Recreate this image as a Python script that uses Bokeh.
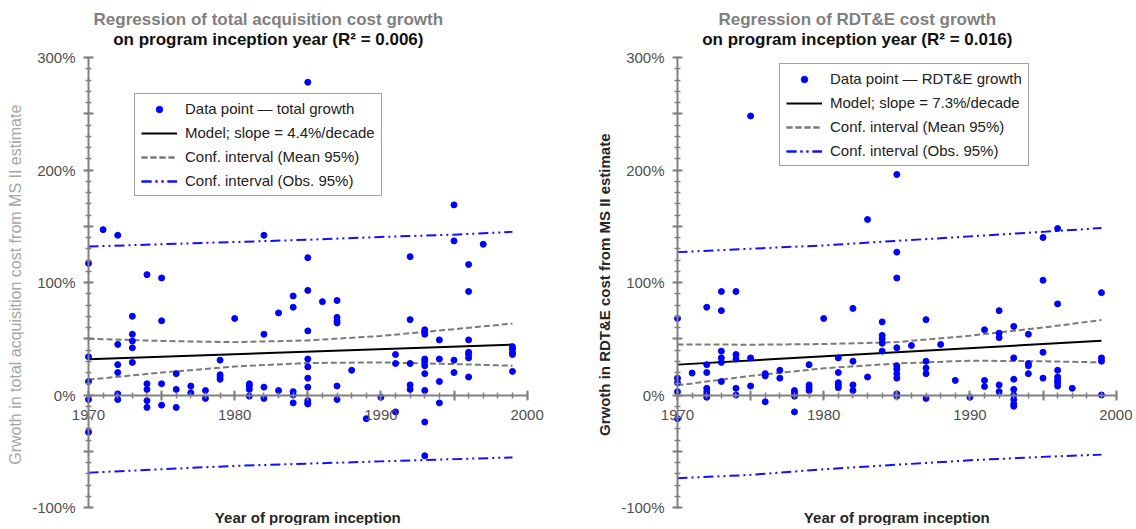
import math
from bokeh.plotting import figure
from bokeh.models import FixedTicker, Label
from bokeh.layouts import row
from bokeh.embed import file_html
from bokeh.resources import INLINE

FONT = "Liberation Sans"

# ---------------- tick labels ----------------
y_major = [-100, -50, 0, 50, 100, 150, 200, 250, 300]
y_tick_values = [-100, 0, 100, 200, 300]
y_tick_labels = ["-100%", "0%", "100%", "200%", "300%"]
x_major = [1970, 1975, 1980, 1985, 1990, 1995, 2000]
x_tick_values = [1970, 1980, 1990, 2000]
x_tick_labels = ["1970", "1980", "1990", "2000"]

# ---------------- left chart: total acquisition cost growth (%) ----------------
total_year = [1970, 1970, 1970, 1970, 1970,
              1971,
              1972, 1972, 1972, 1972, 1972, 1972,
              1973, 1973, 1973, 1973, 1973,
              1974, 1974, 1974, 1974, 1974,
              1975, 1975, 1975, 1975,
              1976, 1976, 1976,
              1977, 1977,
              1978, 1978,
              1979, 1979, 1979, 1979,
              1980,
              1981, 1981, 1981, 1981,
              1982, 1982, 1982, 1982,
              1983, 1983,
              1984, 1984, 1984, 1984, 1984,
              1985, 1985, 1985, 1985, 1985, 1985, 1985, 1985, 1985, 1985, 1985,
              1986,
              1987, 1987, 1987, 1987, 1987, 1987,
              1988,
              1989,
              1990,
              1991, 1991, 1991,
              1992, 1992, 1992, 1992, 1992,
              1993, 1993, 1993, 1993, 1993, 1993, 1993, 1993, 1993, 1993,
              1994, 1994, 1994, 1994,
              1995, 1995, 1995, 1995,
              1996, 1996, 1996, 1996, 1996, 1996, 1996,
              1997,
              1999, 1999, 1999, 1999, 1999]
total_growth = [117, 34, 12, -4, -33,
                147,
                142, 45, 27, 20, 1, -4,
                70, 54, 48, 42, 29,
                107, 10, 5, -5, -11,
                104, 66, 10, -9,
                19, 5, -11,
                8, 2,
                4, -3,
                31, 18, 16, 14,
                68,
                10, 8, 5, -1,
                142, 54, 7, -3,
                73, 4,
                88, 78, 3, 0, -7,
                278, 122, 93, 57, 32, 25, 15, 7, -5, -7, -8,
                83,
                84, 69, 66, 64, 8, -4,
                22,
                -21,
                -2,
                36, 28, -15,
                123, 67, 28, 9, 5,
                58, 56, 54, 32, 30, 26, 19, 4, -24, -54,
                49, 32, 12, -7,
                169, 137, 31, 20,
                116, 92, 49, 38, 36, 33, 16,
                134,
                43, 41, 38, 36, 21]

model_year = [1970, 1999]
total_model = [31.8, 44.8]
band_year = [1970, 1975, 1980, 1985, 1990, 1995, 1999]
total_mean_hi = [50, 48, 47, 48.5, 52.5, 58.5, 63.5]
total_mean_lo = [13.6, 20, 25.4, 28.4, 29, 27.5, 26]
total_obs_hi = [132, 134, 136, 138, 140.5, 142.5, 145]
total_obs_lo = [-69, -66, -63, -61, -59, -57, -55.5]

# ---------------- right chart: RDT&E cost growth (%) ----------------
rdte_year = [1970, 1970, 1970, 1970, 1970,
             1971,
             1972, 1972, 1972, 1972, 1972, 1972, 1972,
             1973, 1973, 1973, 1973, 1973, 1973,
             1974, 1974, 1974, 1974, 1974,
             1975, 1975, 1975,
             1976, 1976, 1976,
             1977, 1977,
             1978, 1978, 1978, 1978,
             1979, 1979, 1979, 1979,
             1980,
             1981, 1981, 1981, 1981, 1981,
             1982, 1982, 1982, 1982,
             1983, 1983,
             1984, 1984, 1984, 1984, 1984,
             1985, 1985, 1985, 1985, 1985, 1985, 1985, 1985, 1985, 1985,
             1986,
             1987, 1987, 1987, 1987, 1987,
             1988,
             1989,
             1990,
             1991, 1991, 1991,
             1992, 1992, 1992, 1992, 1992,
             1993, 1993, 1993, 1993, 1993, 1993, 1993, 1993,
             1994, 1994, 1994, 1994,
             1995, 1995, 1995, 1995,
             1996, 1996, 1996, 1996, 1996, 1996, 1996,
             1997,
             1999, 1999, 1999, 1999]
rdte_growth = [68, 15, 11, 3, -21,
               19.5,
               78, 27, 20, 6, 3, 0.5, -2,
               92, 75, 39, 33, 29, 12,
               92, 36, 32, 6, 0,
               248, 33, 8,
               19, 17, -6,
               22, 15,
               4, 2, -1, -15,
               27, 9, 6.5, 4,
               68,
               33, 20, 11, 9, 6.5,
               77, 30, 9, 4,
               156, 16,
               65, 53, 50, 46, 39,
               196, 127, 104, 42, 26, 23, 19, 15, 1, -1,
               44,
               67, 30, 24, 19, -3,
               45,
               13,
               -2,
               58, 13, 7.5,
               75, 55, 51, 9, 3,
               61, 33, 14, 5, 0, -4, -8, -10,
               54, 28, 26, 19,
               140, 102, 38, 15,
               148, 81, 22, 16, 13, 11, 8,
               6,
               91, 33, 30, 0]

rdte_model = [27.0, 48.2]
rdte_mean_hi = [45, 44.7, 45.3, 47, 52.7, 60, 66.6]
rdte_mean_lo = [8.6, 17, 23.7, 28, 30.5, 30, 29]
rdte_obs_hi = [127, 130, 133, 137, 141, 145, 148.4]
rdte_obs_lo = [-74, -71, -66, -62, -58, -55, -53]

# ---------------- layout constants (pixels) ----------------
PX_PER_YEAR = 14.62
PX_PER_PCT = 1.125
FIG_H = 525
AXIS_TOP_PX = 57        # page y of the 300% tick
AXIS_BOTTOM_PX = 507    # page y of the -100% tick


def make_chart(years, vals, model, mean_hi, mean_lo, obs_hi, obs_lo,
               title1, title2, ylabel, ylabel_color, ylabel_style, ylabel_size,
               point_label, model_label, legend_loc, fig_w, axis_left_px):
    x0 = 1970 - axis_left_px / PX_PER_YEAR
    x1 = 1970 + (fig_w - axis_left_px) / PX_PER_YEAR
    y1 = 300 + AXIS_TOP_PX / PX_PER_PCT
    y0 = -100 - (FIG_H - AXIS_BOTTOM_PX) / PX_PER_PCT
    p = figure(frame_width=fig_w, frame_height=FIG_H,
               x_range=(x0, x1), y_range=(y0, y1),
               output_backend="svg", toolbar_location=None, title=None,
               min_border=0,
               background_fill_color="white", border_fill_color="white")
    p.outline_line_color = None
    p.xgrid.visible = False
    p.ygrid.visible = False

    # confidence bands
    p.line(band_year, obs_hi, line_color="#1010ff", line_width=2,
           line_dash="10 4 2 4 2 4", legend_label="Conf. interval (Obs. 95%)")
    p.line(band_year, obs_lo, line_color="#1010ff", line_width=2,
           line_dash="10 4 2 4 2 4", legend_label="Conf. interval (Obs. 95%)")
    p.line(band_year, mean_hi, line_color="#7a7a7a", line_width=2,
           line_dash="6 3", legend_label="Conf. interval (Mean 95%)")
    p.line(band_year, mean_lo, line_color="#7a7a7a", line_width=2,
           line_dash="6 3", legend_label="Conf. interval (Mean 95%)")
    p.line(model_year, model, line_color="black", line_width=2,
           legend_label=model_label)
    p.scatter(years, vals, marker="circle", size=6, fill_color="#0000ff",
              line_color="#0000ff", legend_label=point_label)

    # legend order / style
    items = p.legend[0].items
    order = [point_label, model_label, "Conf. interval (Mean 95%)",
             "Conf. interval (Obs. 95%)"]
    p.legend[0].items = sorted(items, key=lambda it: order.index(it.label.value))
    lg = p.legend[0]
    lg.location = legend_loc
    lg.border_line_color = "#444444"
    lg.border_line_width = 1.5
    lg.background_fill_color = "white"
    lg.background_fill_alpha = 1
    lg.label_text_font = FONT
    lg.label_text_font_size = "15px"
    lg.label_text_color = "#222222"
    lg.padding = 6
    lg.spacing = 7
    lg.margin = 0
    lg.glyph_width = 36
    lg.glyph_height = 16
    lg.label_height = 16
    lg.label_standoff = 8

    # axes (drawn inside the frame)
    tick_color = "#808080"
    xa = p.xaxis[0]
    xa.fixed_location = 0
    xa.bounds = (1970, 2000)
    xa.ticker = FixedTicker(ticks=x_major, minor_ticks=list(range(1970, 2001)))
    xa.major_label_overrides = {t: (x_tick_labels[x_tick_values.index(t)]
                                    if t in x_tick_values else "") for t in x_major}
    ya = p.yaxis[0]
    ya.fixed_location = 1970
    ya.bounds = (-100, 300)
    ya.ticker = FixedTicker(ticks=y_major, minor_ticks=list(range(-100, 301, 10)))
    ya.major_label_overrides = {t: (y_tick_labels[y_tick_values.index(t)]
                                    if t in y_tick_values else "") for t in y_major}
    for ax in (xa, ya):
        ax.axis_line_color = tick_color
        ax.axis_line_width = 2
        ax.major_tick_line_color = tick_color
        ax.major_tick_line_width = 2
        ax.minor_tick_line_color = tick_color
        ax.minor_tick_line_width = 1.5
        ax.major_tick_in = 5
        ax.major_tick_out = 5
        ax.minor_tick_in = 3
        ax.minor_tick_out = 3
        ax.major_label_text_font = FONT
        ax.major_label_text_font_size = "15px"
        ax.major_label_text_color = "#505050"
    xa.major_label_standoff = 10
    ya.major_label_standoff = 8

    # titles and axis labels
    p.add_layout(Label(x=1982.3, y=334.2, text=title1, text_align="center",
                       text_baseline="middle", text_font=FONT,
                       text_font_size="17px", text_font_style="bold",
                       text_color="#808080"))
    p.add_layout(Label(x=1982.3, y=315.6, text=title2, text_align="center",
                       text_baseline="middle", text_font=FONT,
                       text_font_size="17px", text_font_style="bold",
                       text_color="#111111"))
    p.add_layout(Label(x=1985, y=-109.3, text="Year of program inception",
                       text_align="center", text_baseline="middle",
                       text_font=FONT, text_font_size="15px",
                       text_font_style="bold", text_color="#262626"))
    p.add_layout(Label(x=1965.0, y=98, text=ylabel, angle=math.pi / 2,
                       text_align="center", text_baseline="middle",
                       text_font=FONT, text_font_size=ylabel_size,
                       text_font_style=ylabel_style, text_color=ylabel_color))
    return p


p1 = make_chart(total_year, total_growth, total_model, total_mean_hi, total_mean_lo,
                total_obs_hi, total_obs_lo,
                "Regression of total acquisition cost growth",
                "on program inception year (R\u00b2 = 0.006)",
                "Grwoth in total acquisition cost from MS II estimate",
                "#a6a6a6", "normal", "16px",
                "Data point \u2014 total growth", "Model; slope = 4.4%/decade",
                (134, 329), 568, 88)
p2 = make_chart(rdte_year, rdte_growth, rdte_model, rdte_mean_hi, rdte_mean_lo,
                rdte_obs_hi, rdte_obs_lo,
                "Regression of RDT&E cost growth",
                "on program inception year (R\u00b2 = 0.016)",
                "Grwoth in RDT&E cost from MS II estimate",
                "#262626", "bold", "15px",
                "Data point \u2014 RDT&E growth", "Model; slope = 7.3%/decade",
                (211, 359), 564, 109)

layout = row(p1, p2)
open("out.html", "w").write(file_html(layout, INLINE))
